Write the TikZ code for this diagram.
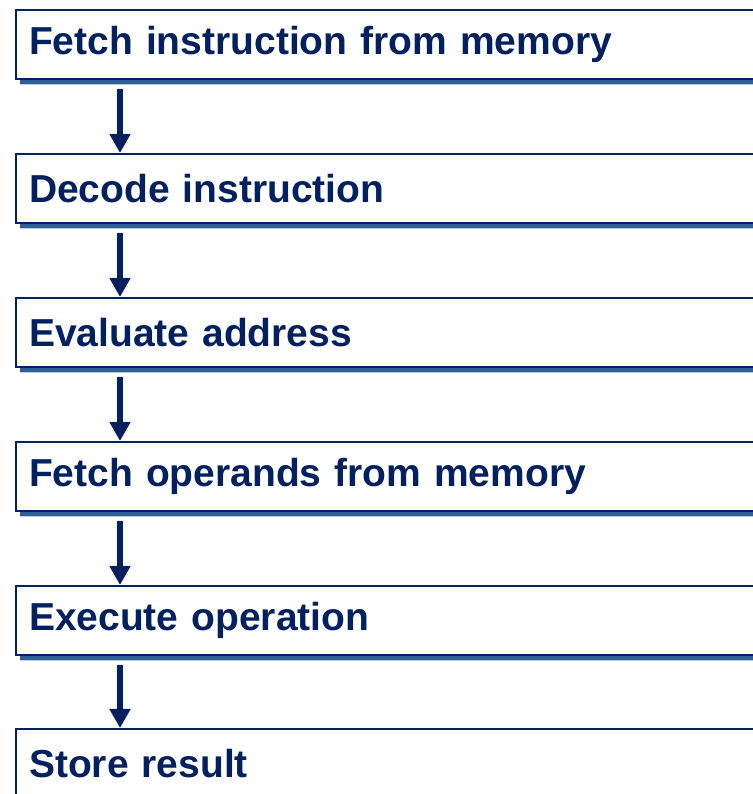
\documentclass[tikz,border=0pt]{standalone}
\usepackage{fontspec}
\setmainfont{Liberation Sans}
\usetikzlibrary{arrows.meta}
\definecolor{navy}{RGB}{0,32,96}
\definecolor{shadowblue}{RGB}{47,95,150}
\definecolor{shadowlight}{RGB}{190,210,230}
\tikzset{
  stepbox/.style={draw=navy, line width=2pt, fill=white,
    minimum width=770pt, minimum height=69pt, inner xsep=13pt, inner ysep=0pt,
    text width=744pt, align=left, anchor=north west, text=navy,
    font=\fontsize{39}{46}\selectfont\bfseries,
    preaction={fill=shadowlight, transform canvas={xshift=3.5pt,yshift=-6.5pt}},
    preaction={fill=shadowblue, transform canvas={xshift=3.5pt,yshift=-5pt}}},
  flowarrow/.style={draw=navy, line width=6pt, -{Triangle[width=20pt,length=19pt]}}
}
\begin{document}
\begin{tikzpicture}[x=1pt,y=1pt]
\useasboundingbox (0,0) rectangle (752,794);
\node[stepbox] (b1) at (15,785) {Fetch instruction from memory};
\node[stepbox] (b2) at (15,641) {Decode instruction};
\node[stepbox] (b3) at (15,497) {Evaluate address};
\node[stepbox] (b4) at (15,353) {Fetch operands from memory};
\node[stepbox] (b5) at (15,209) {Execute operation};
\node[stepbox] (b6) at (15,66) {Store result};
\foreach \a/\b in {b1/b2,b2/b3,b3/b4,b4/b5,b5/b6}{
  \path (\a.south west) ++(105,-9) coordinate (s\a);
  \path (\b.north west) ++(105,0) coordinate (e\a);
  \draw[flowarrow] (s\a) -- (e\a);
}
\end{tikzpicture}
\end{document}
